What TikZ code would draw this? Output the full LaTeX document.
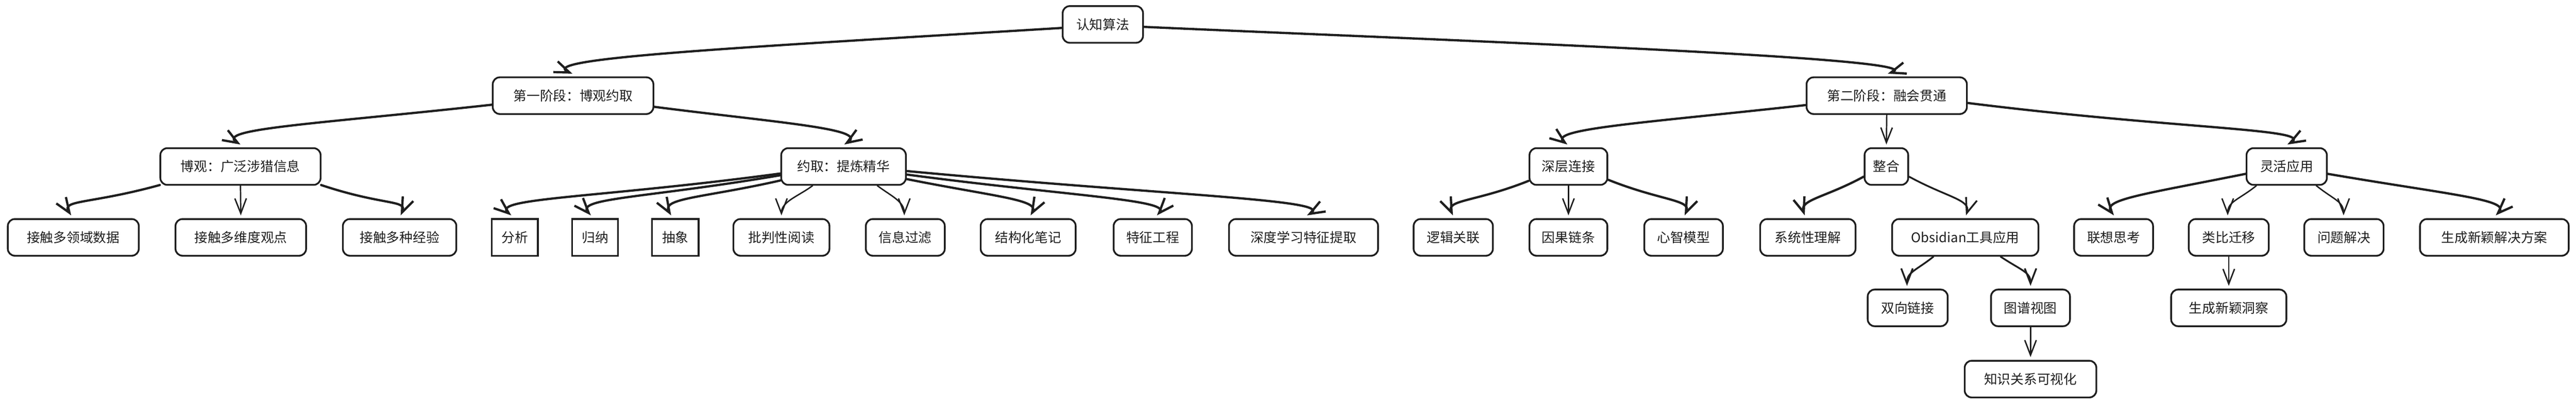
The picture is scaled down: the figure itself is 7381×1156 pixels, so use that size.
\documentclass[tikz,border=0pt]{standalone}
\usepackage{fontspec}
\setmainfont{Noto Sans CJK SC}
\usetikzlibrary{calc,arrows.meta}
\definecolor{ink}{HTML}{1E1E1E}
\begin{document}
\begin{tikzpicture}[x=0.01cm,y=0.01cm,
  box/.style={draw=ink, line width=0.05cm, rounded corners=0.2cm, fill=white,
    minimum height=1.05cm, inner sep=0pt, text=ink,
    font=\fontsize{10.8pt}{13pt}\selectfont},
  sqbox/.style={box, sharp corners},
  tip/.style={-{Straight Barb[length=0.43cm,width=0.33cm]}},
  thickedge/.style={draw=ink, line width=0.065cm, line cap=round, line join=round, tip},
  thinedge/.style={draw=ink, line width=0.04cm, line cap=round, line join=round, tip},
  midedge/.style={draw=ink, line width=0.05cm, line cap=round, line join=round, tip}]
\fill[white] (0,0) rectangle (7381,-1156);
\useasboundingbox (0,0) rectangle (7381,-1156);

% level 0
\node[box, minimum width=2.30cm] (root) at (3160,-70) {认知算法};
% level 1
\node[box, minimum width=4.60cm] (s1) at (1642,-274) {第一阶段：博观约取};
\node[box, minimum width=4.59cm] (s2) at (5406,-274) {第二阶段：融会贯通};
% level 2
\node[box, minimum width=4.59cm] (bo) at (689,-477) {博观：广泛涉猎信息};
\node[box, minimum width=3.57cm] (yq) at (2417,-477) {约取：提炼精华};
\node[box, minimum width=2.23cm] (sc) at (4494,-477) {深层连接};
\node[box, minimum width=1.25cm] (zh) at (5405,-477) {整合};
\node[box, minimum width=2.30cm] (lh) at (6552,-477) {灵活应用};
% level 3
\begin{scope}[every node/.append style={minimum height=1.06cm}]
\node[box, minimum width=3.75cm] (l1) at (210,-680) {接触多领域数据};
\node[box, minimum width=3.74cm] (l2) at (690,-680) {接触多维度观点};
\node[box, minimum width=3.25cm] (l3) at (1145,-680) {接触多种经验};
\node[sqbox, minimum width=1.32cm] (y1) at (1475,-680) {分析};
\node[sqbox, minimum width=1.31cm] (y2) at (1705,-680) {归纳};
\node[sqbox, minimum width=1.33cm] (y3) at (1935,-680) {抽象};
\node[box, minimum width=2.75cm] (y4) at (2239,-680) {批判性阅读};
\node[box, minimum width=2.26cm] (y5) at (2594,-680) {信息过滤};
\node[box, minimum width=2.72cm] (y6) at (2946,-680) {结构化笔记};
\node[box, minimum width=2.24cm] (y7) at (3303,-680) {特征工程};
\node[box, minimum width=4.27cm] (y8) at (3735,-680) {深度学习特征提取};
\node[box, minimum width=2.27cm] (c1) at (4164,-680) {逻辑关联};
\node[box, minimum width=2.23cm] (c2) at (4494,-680) {因果链条};
\node[box, minimum width=2.25cm] (c3) at (4824,-680) {心智模型};
\node[box, minimum width=2.73cm] (z1) at (5180,-680) {系统性理解};
\node[box, minimum width=4.19cm] (z2) at (5631,-680) {Obsidian工具应用};
\node[box, minimum width=2.26cm] (h1) at (6056,-680) {联想思考};
\node[box, minimum width=2.29cm] (h2) at (6386,-680) {类比迁移};
\node[box, minimum width=2.27cm] (h3) at (6716,-680) {问题解决};
\node[box, minimum width=4.26cm] (h4) at (7147,-680) {生成新颖解决方案};
\end{scope}
% level 4
\node[box, minimum width=2.29cm] (o1) at (5466,-882) {双向链接};
\node[box, minimum width=2.26cm] (o2) at (5818,-882) {图谱视图};
\node[box, minimum width=3.30cm] (g1) at (6386,-882) {生成新颖洞察};
% level 5
\node[box, minimum width=3.77cm] (k1) at (5818,-1086) {知识关系可视化};

% ---- connectors ----
% root
\draw[thickedge] ($(root.west)+(0,-10)$) .. controls ($(root.west)+(-900,-65)$) and ($(s1.north)+(-112,53)$) .. ($(s1.north)+(-2,8)$);
\draw[thickedge] ($(root.east)+(0,-7)$) .. controls ($(root.east)+(900,-47)$) and ($(s2.north)+(143,53)$) .. ($(s2.north)+(3,8)$);
% s1
\draw[thickedge] ($(s1.west)+(0,-26)$) .. controls ($(s1.west)+(-500,-81)$) and ($(bo.north)+(-75,53)$) .. ($(bo.north)+(0,8)$);
\draw[thickedge] ($(s1.east)+(0,-32)$) .. controls ($(s1.east)+(350,-77)$) and ($(yq.north)+(72,53)$) .. ($(yq.north)+(2,8)$);
% bo
\draw[thickedge] ($(bo.south west)+(1,2)$) .. controls ($(bo.south west)+(-199,-53)$) and ($(l1.north)+(-36,53)$) .. ($(l1.north)+(-6,8)$);
\draw[thinedge] (bo.south) -- ($(l2.north)+(0,8)$);
\draw[thickedge] ($(bo.south east)+(-1,2)$) .. controls ($(bo.south east)+(179,-58)$) and ($(l3.north)+(23,53)$) .. ($(l3.north)+(3,8)$);
% yq
\draw[thickedge] ($(yq.west)+(0,-20)$) .. controls ($(yq.west)+(-520,-90)$) and ($(y1.north)+(-70,58)$) .. ($(y1.north)+(-10,8)$);
\draw[thickedge] ($(yq.west)+(0,-25)$) .. controls ($(yq.west)+(-380,-90)$) and ($(y2.north)+(-57,58)$) .. ($(y2.north)+(-12,8)$);
\draw[thickedge] ($(yq.west)+(0,-40)$) .. controls ($(yq.west)+(-220,-90)$) and ($(y3.north)+(-42,58)$) .. ($(y3.north)+(-12,8)$);
\draw[thinedge] ($(yq.south)+(-89,0)$) .. controls ($(yq.south)+(-129,-30)$) and ($(y4.north)+(0,48)$) .. ($(y4.north)+(0,8)$);
\draw[thinedge] ($(yq.south)+(97,0)$) .. controls ($(yq.south)+(137,-30)$) and ($(y5.north)+(-3,48)$) .. ($(y5.north)+(-3,8)$);
\draw[thickedge] ($(yq.east)+(0,-36)$) .. controls ($(yq.east)+(250,-86)$) and ($(y6.north)+(32,53)$) .. ($(y6.north)+(7,8)$);
\draw[thickedge] ($(yq.east)+(0,-23)$) .. controls ($(yq.east)+(450,-83)$) and ($(y7.north)+(52,53)$) .. ($(y7.north)+(12,8)$);
\draw[thickedge] ($(yq.east)+(0,-13)$) .. controls ($(yq.east)+(750,-83)$) and ($(y8.north)+(90,53)$) .. ($(y8.north)+(10,8)$);
% s2
\draw[thickedge] ($(s2.west)+(0,-27)$) .. controls ($(s2.west)+(-450,-77)$) and ($(sc.north)+(-63,53)$) .. ($(sc.north)+(-3,8)$);
\draw[thinedge] (s2.south) -- ($(zh.north)+(0,8)$);
\draw[thickedge] ($(s2.east)+(0,-21)$) .. controls ($(s2.east)+(600,-96)$) and ($(lh.north)+(82,53)$) .. ($(lh.north)+(2,8)$);
% sc
\draw[thickedge] ($(sc.south west)+(0,14)$) .. controls ($(sc.south west)+(-150,-46)$) and ($(c1.north)+(-21,53)$) .. ($(c1.north)+(-1,8)$);
\draw[thinedge] (sc.south) -- ($(c2.north)+(0,8)$);
\draw[thickedge] ($(sc.south east)+(0,17)$) .. controls ($(sc.south east)+(150,-43)$) and ($(c3.north)+(23,53)$) .. ($(c3.north)+(3,8)$);
% zh
\draw[thickedge] ($(zh.west)+(0,-29)$) .. controls ($(zh.west)+(-110,-89)$) and ($(z1.north)+(-24,53)$) .. ($(z1.north)+(-9,8)$);
\draw[midedge] ($(zh.east)+(0,-29)$) .. controls ($(zh.east)+(110,-89)$) and ($(z2.north)+(17,53)$) .. ($(z2.north)+(2,8)$);
% lh
\draw[thickedge] ($(lh.west)+(0,-21)$) .. controls ($(lh.west)+(-300,-81)$) and ($(h1.north)+(-34,53)$) .. ($(h1.north)+(1,8)$);
\draw[thinedge] ($(lh.south)+(-87,0)$) .. controls ($(lh.south)+(-137,-40)$) and ($(h2.north)+(-3,48)$) .. ($(h2.north)+(-3,8)$);
\draw[thinedge] ($(lh.south)+(85,0)$) .. controls ($(lh.south)+(135,-40)$) and ($(h3.north)+(-1,48)$) .. ($(h3.north)+(-1,8)$);
\draw[thickedge] ($(lh.east)+(0,-21)$) .. controls ($(lh.east)+(350,-81)$) and ($(h4.north)+(49,53)$) .. ($(h4.north)+(4,8)$);
% level 3 -> 4
\draw[thinedge] (h2.south) -- ($(g1.north)+(0,8)$);
\draw[midedge] ($(z2.south)+(-91,0)$) .. controls ($(z2.south)+(-141,-40)$) and ($(o1.north)+(-2,48)$) .. ($(o1.north)+(-2,8)$);
\draw[midedge] ($(z2.south)+(101,0)$) .. controls ($(z2.south)+(161,-40)$) and ($(o2.north)+(0,48)$) .. ($(o2.north)+(0,8)$);
% level 4 -> 5
\draw[thinedge] (o2.south) -- ($(k1.north)+(0,8)$);
\end{tikzpicture}
\end{document}
